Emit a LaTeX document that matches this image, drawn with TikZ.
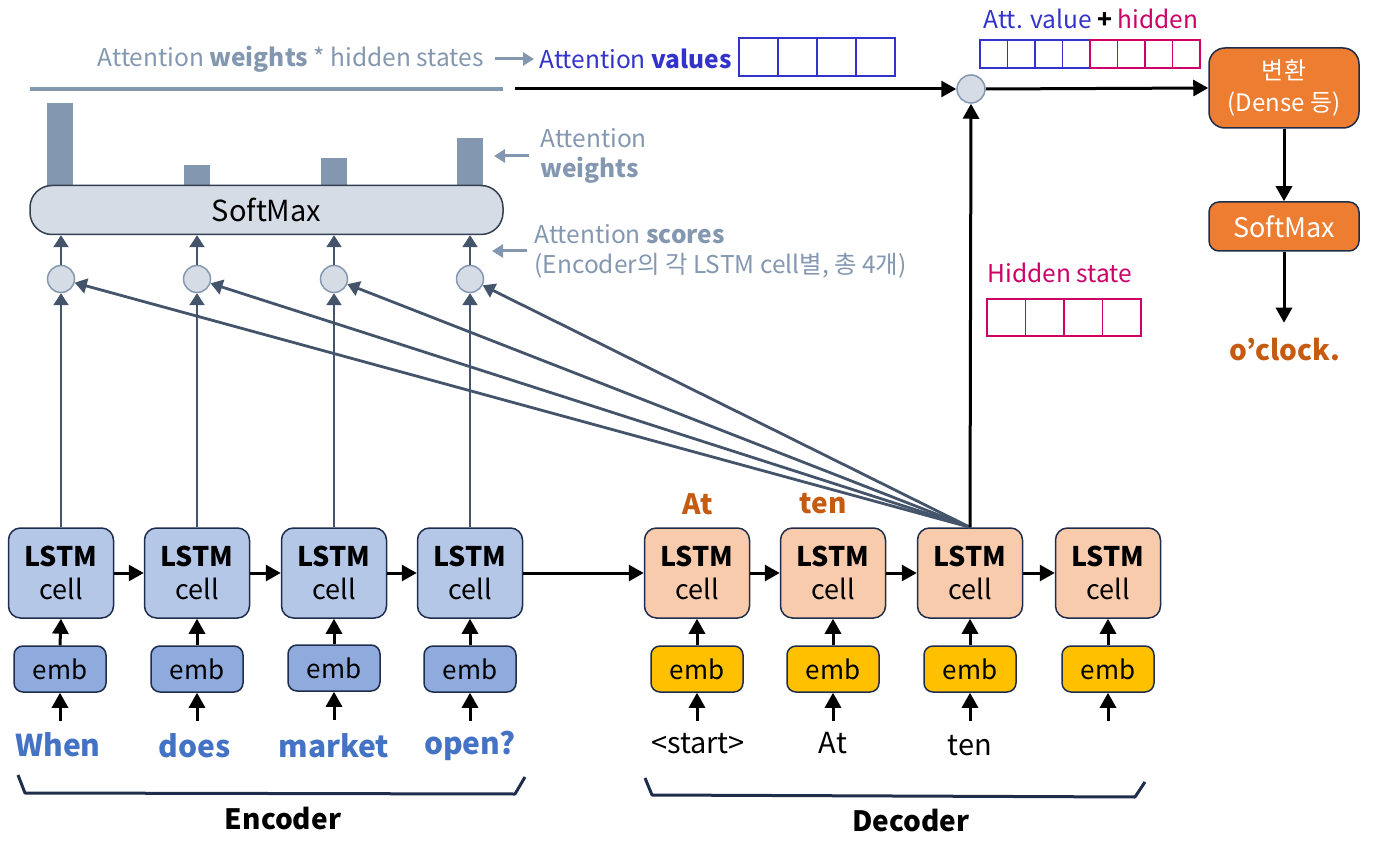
\documentclass[tikz,border=0pt]{standalone}
\usepackage{fontspec}
\setmainfont{Noto Sans CJK KR}
\usetikzlibrary{arrows.meta}
\definecolor{navy}{HTML}{1F2D4D}
\definecolor{slate}{HTML}{44546A}
\definecolor{grayblue}{HTML}{8497B0}
\definecolor{lightbg}{HTML}{D6DCE5}
\definecolor{encfill}{HTML}{B4C7E7}
\definecolor{encemb}{HTML}{8FAADC}
\definecolor{decfill}{HTML}{F8CBAD}
\definecolor{decemb}{HTML}{FFC000}
\definecolor{outorange}{HTML}{C55A11}
\definecolor{wordblue}{HTML}{4472C4}
\definecolor{valblue}{HTML}{3333CC}
\definecolor{hidmag}{HTML}{CC0066}
\definecolor{boxorange}{HTML}{ED7D31}
\definecolor{smborder}{HTML}{333F50}
\begin{document}
\begin{tikzpicture}[x=1pt,y=-1pt,
  cellbox/.style={draw=navy, line width=1.5pt, rounded corners=12pt, minimum width=105pt, minimum height=90pt, align=center, inner sep=0pt, font=\fontsize{27}{33}\selectfont},
  enccell/.style={cellbox, fill=encfill},
  deccell/.style={cellbox, fill=decfill},
  embbox/.style={draw=navy, line width=1.5pt, rounded corners=9pt, minimum width=92pt, minimum height=46pt, inner sep=0pt, font=\fontsize{26}{28}\selectfont},
  encemb/.style={embbox, fill=encemb},
  decemb/.style={embbox, fill=decemb},
  arr/.style={-{Triangle[length=15pt,width=16pt]}, line width=3pt, draw=black},
  slarr/.style={-{Triangle[length=12pt,width=15pt]}, line width=2.8pt, draw=slate},
  grarr/.style={-{Triangle[length=11pt,width=13pt]}, line width=3pt, draw=grayblue},
  score/.style={circle, minimum size=27pt, inner sep=0pt, fill=lightbg, draw=grayblue, line width=1.5pt},
  encword/.style={font=\fontsize{30}{32}\selectfont\bfseries, text=wordblue},
  decword/.style={font=\fontsize{29}{32}\selectfont},
  outword/.style={font=\fontsize{28}{30}\selectfont\bfseries, text=outorange},
  note/.style={font=\fontsize{24.5}{30}\selectfont, text=grayblue, align=left},
  brace/.style={line width=3pt, draw=navy, line join=round},
  orbox/.style={draw=navy, line width=1.5pt, fill=boxorange, text=white, rounded corners=16pt, minimum width=150pt, align=center, inner sep=0pt}
]
\useasboundingbox (0,0) rectangle (1382,850);

% ---------- encoder ----------
\node[enccell] (e1) at (61,573) {\textbf{LSTM}\\cell};
\node[enccell] (e2) at (197,573) {\textbf{LSTM}\\cell};
\node[enccell] (e3) at (334,573) {\textbf{LSTM}\\cell};
\node[enccell] (e4) at (470,573) {\textbf{LSTM}\\cell};
\node[encemb] (ee1) at (60,669) {emb};
\node[encemb] (ee2) at (197,669) {emb};
\node[encemb] (ee3) at (334,668) {emb};
\node[encemb] (ee4) at (470,669) {emb};
\node[encword] (w1) at (58,745) {When};
\node[encword] (w2) at (195,746) {does};
\node[encword] (w3) at (334,746) {market};
\node[encword] (w4) at (470,746) {open?};

% ---------- decoder ----------
\node[deccell] (d1) at (697,573) {\textbf{LSTM}\\cell};
\node[deccell] (d2) at (833,573) {\textbf{LSTM}\\cell};
\node[deccell] (d3) at (970,573) {\textbf{LSTM}\\cell};
\node[deccell] (d4) at (1108,573) {\textbf{LSTM}\\cell};
\node[decemb] (de1) at (697,669) {emb};
\node[decemb] (de2) at (833,669) {emb};
\node[decemb] (de3) at (970,669) {emb};
\node[decemb] (de4) at (1108,669) {emb};
\node[decword] (v1) at (698,744) {<start>};
\node[decword] (v2) at (833,743) {At};
\node[decword] (v3) at (970,746) {ten};
\node[outword] (o1) at (698,504) {At};
\node[outword] (o2) at (823,504) {ten};

% input arrows
\foreach \n in {ee1,ee2,ee3,ee4,de1,de2,de3,de4}{
  \draw[arr] ([yshift=-28pt]\n.south) -- (\n.south);
}
\foreach \a/\b in {ee1/e1,ee2/e2,ee3/e3,ee4/e4,de1/d1,de2/d2,de3/d3,de4/d4}{
  \draw[arr] (\a.north) -- (\b.south);
}
% horizontal arrows
\foreach \a/\b in {e1/e2,e2/e3,e3/e4,e4/d1,d1/d2,d2/d3,d3/d4}{
  \draw[arr] (\a.east) -- (\b.west);
}

% braces
\draw[brace] (18,775) -- (25,793) -- (515,794) -- (525,777);
\draw[brace] (645,778) -- (652,795) -- (1135,797) -- (1145,782);
\node[font=\fontsize{28}{30}\selectfont\bfseries] (enc) at (283,819) {Encoder};
\node[font=\fontsize{28}{30}\selectfont\bfseries] (dec) at (911,821) {Decoder};

% ---------- attention ----------
\fill[grayblue] (47,103) rectangle (73,186);
\fill[grayblue] (184,165) rectangle (210,186);
\fill[grayblue] (321,158) rectangle (347,186);
\fill[grayblue] (457,138) rectangle (483,186);
\node[draw=smborder, fill=lightbg, line width=1.5pt, rounded corners=22pt, minimum width=473pt, minimum height=49pt, font=\fontsize{29}{30}\selectfont] (sm) at (266.5,210) {SoftMax};

\node[score] (c1) at (61,279) {};
\node[score] (c2) at (197,279) {};
\node[score] (c3) at (334,279) {};
\node[score] (c4) at (470,279) {};
\foreach \i in {1,2,3,4}{
  \draw[slarr] (e\i.north) -- (c\i.south);
  \draw[slarr] (c\i.north) -- (c\i.north |- sm.south);
  \draw[slarr] (d3.north) -- (c\i);
}

\draw[line width=4pt, grayblue] (30,89) -- (503,89);

\node[note, anchor=west] (aw) at (537,156) {Attention\\\textbf{weights}};
\draw[grarr] ([xshift=-8pt]aw.west) -- ++(-35,0);
\node[note, anchor=west] (as) at (531,251) {Attention \textbf{scores}\\(Encoder의 각 LSTM cell별, 총 4개)};
\draw[grarr] ([xshift=-4pt]as.west) -- ++(-35,0);

\node[note, anchor=east] (ahs) at (487,59) {Attention \textbf{weights} * hidden states};
\node[font=\fontsize{24.5}{30}\selectfont, text=valblue, anchor=west] (av) at (536,59) {Attention \textbf{values}};
\draw[grarr] ([xshift=8pt]ahs.east) -- ([xshift=-2pt]av.west);
\foreach \i in {0,1,2,3}{
  \draw[valblue, line width=1.2pt] (739+39*\i,38) rectangle (739+39*\i+39,76);
}

% combine
\node[score, minimum size=28pt] (cv) at (971,89) {};
\coordinate (hsend) at (515,89);
\draw[arr] (hsend) -- (cv.west);
\draw[arr] (d3.north) -- (cv.south);

\node[font=\fontsize{24.5}{30}\selectfont] (avh) at (1091,19) {\textcolor{valblue}{Att. value} \textbf{+} \textcolor{hidmag}{hidden}};
\foreach \i in {0,1,2,3}{
  \draw[valblue, line width=1.2pt] (980+27.5*\i,40) rectangle (980+27.5*\i+27.5,68);
}
\foreach \i in {4,5,6,7}{
  \draw[hidmag, line width=1.2pt] (980+27.5*\i,40) rectangle (980+27.5*\i+27.5,68);
}

\node[orbox, minimum height=80pt, font=\fontsize{24}{32}\selectfont] (tr) at (1284,88) {변환\\(Dense 등)};
\node[orbox, minimum height=49pt, rounded corners=10pt, font=\fontsize{27}{30}\selectfont] (sm2) at (1284,226.5) {SoftMax};
\node[outword] (oc) at (1285,350) {o’clock.};
\draw[arr] (cv.east) -- (tr.west);
\draw[arr] (tr.south) -- (sm2.north);
\draw[arr] (sm2.south) -- ++(0,71);

\node[font=\fontsize{24.5}{30}\selectfont, text=hidmag] (hsl) at (1060,273) {Hidden state};
\foreach \i in {0,1,2,3}{
  \draw[hidmag, line width=1.2pt] (987+38.5*\i,299) rectangle (987+38.5*\i+38.5,336);
}
\end{tikzpicture}
\end{document}
